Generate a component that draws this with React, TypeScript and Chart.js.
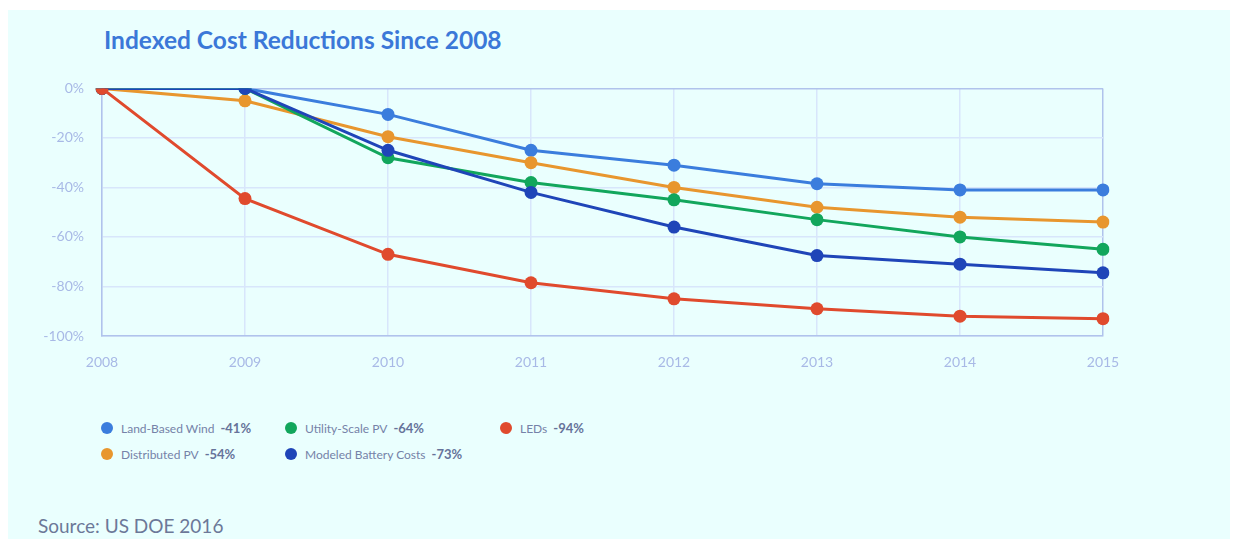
import React, { useEffect, useRef } from "react";
import { Chart, registerables } from "chart.js";

Chart.register(...registerables);

const years = ["2008", "2009", "2010", "2011", "2012", "2013", "2014", "2015"];
const yTicks = [0, -20, -40, -60, -80, -100];

const windValues = [0, 0, -10.5, -25, -31, -38.5, -41, -41];
const distributedPV = [0, -5, -19.5, -30, -40, -48, -52, -54];
const utilityPV = [0, 0, -28, -38, -45, -53, -60, -65];
const batteryValues = [0, 0, -25, -42, -56, -67.5, -71, -74.5];
const ledValues = [0, -44.5, -67, -78.5, -85, -89, -92, -93];

const seriesNames = ["LEDs", "Modeled Battery Costs", "Utility-Scale PV", "Distributed PV", "Land-Based Wind"];
const seriesColors = ["#e04a2d", "#1f45b8", "#12a65c", "#e8962e", "#3b7ddd"];
const seriesData = [ledValues, batteryValues, utilityPV, distributedPV, windValues];

const legendItems = [
  { name: "Land-Based Wind", value: "-41%", color: "#3b7ddd", x: 93, y: 418 },
  { name: "Utility-Scale PV", value: "-64%", color: "#12a65c", x: 277, y: 418 },
  { name: "LEDs", value: "-94%", color: "#e04a2d", x: 492, y: 418 },
  { name: "Distributed PV", value: "-54%", color: "#e8962e", x: 93, y: 444 },
  { name: "Modeled Battery Costs", value: "-73%", color: "#1f45b8", x: 277, y: 444 },
];

const FONT = "Lato, 'Open Sans', sans-serif";

export default function App() {
  const canvasRef = useRef<HTMLCanvasElement | null>(null);

  useEffect(() => {
    if (!canvasRef.current) return;
    const borderColor = "#b0c3ec";
    const gridColor = "#d8e6fb";
    const chart = new Chart(canvasRef.current, {
      type: "line",
      data: {
        labels: years,
        datasets: seriesNames.map((name, i) => ({
          label: name,
          data: seriesData[i],
          borderColor: seriesColors[i],
          backgroundColor: seriesColors[i],
          pointBackgroundColor: seriesColors[i],
          pointBorderColor: seriesColors[i],
          pointRadius: 6.5,
          pointBorderWidth: 0,
          borderWidth: 3,
          tension: 0,
          fill: false,
        })),
      },
      options: {
        animation: false,
        responsive: false,
        maintainAspectRatio: false,
        layout: { padding: { left: 0, right: 47, top: 10, bottom: 0 } },
        plugins: {
          legend: { display: false },
          tooltip: { enabled: false },
          title: { display: false },
        },
        scales: {
          x: {
            type: "category",
            offset: false,
            afterFit: (s: any) => {
              s.height = 44;
            },
            grid: {
              drawTicks: false,
              color: (ctx: any) => (ctx.index === years.length - 1 ? borderColor : gridColor),
              lineWidth: 1.5,
            },
            border: { display: true, color: borderColor, width: 1.5 },
            ticks: {
              padding: 18,
              color: "#a8b9e6",
              font: { family: FONT, size: 14 },
              maxRotation: 0,
            },
          },
          y: {
            min: -100,
            max: 0,
            afterFit: (s: any) => {
              s.width = 72;
            },
            afterBuildTicks: (s: any) => {
              s.ticks = yTicks.map((v) => ({ value: v }));
            },
            grid: {
              drawTicks: false,
              color: (ctx: any) => (ctx.tick && ctx.tick.value === 0 ? borderColor : gridColor),
              lineWidth: 1.5,
            },
            border: { display: true, color: borderColor, width: 1.5 },
            ticks: {
              padding: 18,
              color: "#a8b9e6",
              font: { family: FONT, size: 14 },
              callback: (v: any) => `${v}%`,
            },
          },
        },
      },
    });
    return () => chart.destroy();
  }, []);

  return (
    <div
      style={{
        position: "absolute",
        left: 8,
        top: 10,
        width: 1222,
        height: 529,
        background: "#eafffe",
        fontFamily: FONT,
      }}
    >
      <div
        style={{
          position: "absolute",
          left: 96,
          top: 15,
          fontSize: 24.5,
          fontWeight: 700,
          color: "#3b78d8",
          whiteSpace: "nowrap",
          lineHeight: "30px",
        }}
      >
        Indexed Cost Reductions Since 2008
      </div>
      <canvas
        ref={canvasRef}
        width={1120}
        height={318}
        style={{ position: "absolute", left: 22, top: 52, width: 1120, height: 318 }}
      />
      {legendItems.map((item) => (
        <div
          key={item.name}
          style={{
            position: "absolute",
            left: item.x,
            top: item.y - 9,
            height: 18,
            display: "flex",
            alignItems: "center",
            whiteSpace: "nowrap",
            fontSize: 12,
            color: "#7582a8",
          }}
        >
          <span
            style={{
              display: "inline-block",
              width: 12,
              height: 12,
              borderRadius: 6,
              background: item.color,
              marginRight: 8,
            }}
          />
          <span>{item.name}</span>
          <span style={{ fontWeight: 700, fontSize: 13, marginLeft: 6, color: "#66739a" }}>{item.value}</span>
        </div>
      ))}
      <div
        style={{
          position: "absolute",
          left: 30,
          top: 504,
          fontSize: 19,
          color: "#6c7898",
          whiteSpace: "nowrap",
          lineHeight: "24px",
        }}
      >
        Source: US DOE 2016
      </div>
    </div>
  );
}
